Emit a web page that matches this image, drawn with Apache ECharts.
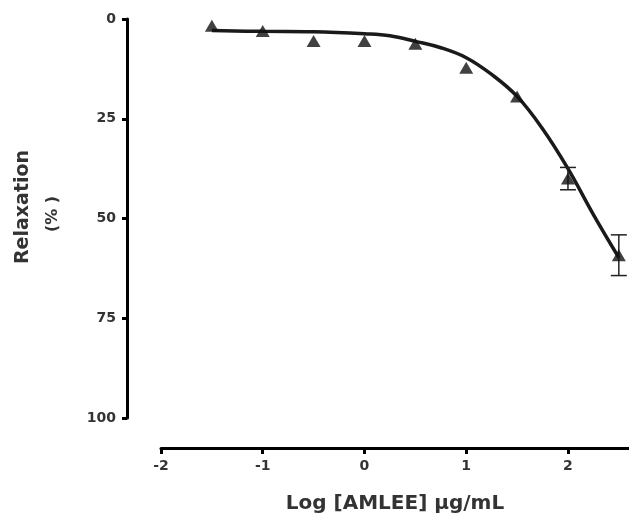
<!DOCTYPE html>
<html>
<head>
<meta charset="utf-8">
<script src="https://cdn.jsdelivr.net/npm/echarts@6/dist/echarts.min.js"></script>
<style>html,body{margin:0;padding:0;background:#fff}#c{width:629px;height:519px}</style>
</head>
<body>
<div id="c"></div>
<script>
// Measured data (log concentration, % relaxation, SEM)
const logConc = [-1.5, -1, -0.5, 0, 0.5, 1, 1.5, 2, 2.5];
const relaxation = [1.7, 3.0, 5.5, 5.5, 6.2, 12.2, 19.4, 40.0, 59.2];
const sem = [0, 0, 0, 0, 0, 0, 0, 2.8, 5.1];
// Fitted curve
const curveX = [-1.5, -1, -0.5, 0, 0.25, 0.5, 0.75, 1, 1.25, 1.5, 1.75, 2, 2.25, 2.5];
const curveY = [2.9, 3.1, 3.2, 3.7, 4.2, 5.6, 7.2, 9.7, 13.9, 19.4, 27.5, 37.5, 49, 59.8];
const yTicks = [0, 25, 50, 75, 100];

const chart = echarts.init(document.getElementById('c'));
const font = 'DejaVu Sans';
const pts = logConc.map((x, i) => [x, relaxation[i]]);
const errs = logConc.map((x, i) => [x, relaxation[i] - sem[i], relaxation[i] + sem[i]]).filter((d, i) => sem[i] > 0);

chart.setOption({
  animation: false,
  backgroundColor: '#fff',
  grid: { left: 161, top: 19, height: 403, width: 472.65 },
  xAxis: {
    type: 'value', min: -2, max: 2.6, interval: 1,
    offset: 30,
    axisLine: { onZero: false, lineStyle: { color: '#000', width: 3 } },
    axisTick: { show: true, length: 6, lineStyle: { color: '#000', width: 3 } },
    axisLabel: { showMaxLabel: false, margin: 11, color: '#333', fontFamily: font, fontWeight: 'bold', fontSize: 14 },
    splitLine: { show: false },
    name: 'Log [AMLEE] µg/mL', nameLocation: 'middle', nameGap: 46,
    nameTextStyle: { color: '#333', fontFamily: font, fontWeight: 'bold', fontSize: 20 }
  },
  yAxis: {
    type: 'value', min: 0, max: 100, interval: 25, inverse: true,
    offset: 34,
    axisLine: { show: true, onZero: false, lineStyle: { color: '#000', width: 3 } },
    axisTick: { show: true, length: 5, lineStyle: { color: '#000', width: 3 } },
    axisLabel: { margin: 11, color: '#333', fontFamily: font, fontWeight: 'bold', fontSize: 14,
      formatter: v => yTicks.includes(v) ? String(v) : '' },
    splitLine: { show: false }
  },
  graphic: [
    { type: 'text', x: 23, y: 207, rotation: Math.PI / 2,
      style: { text: 'Relaxation', fill: '#333', font: 'bold 19px "DejaVu Sans"', align: 'center', verticalAlign: 'middle' } },
    { type: 'text', x: 53, y: 214, rotation: Math.PI / 2,
      style: { text: '(% )', fill: '#333', font: 'bold 16px "DejaVu Sans"', align: 'center', verticalAlign: 'middle' } }
  ],
  series: [
    {
      type: 'line', data: curveX.map((x, i) => [x, curveY[i]]), smooth: 0.4, symbol: 'none',
      lineStyle: { color: '#1a1a1a', width: 3.5 }, z: 2
    },
    {
      type: 'custom', data: errs, z: 3,
      renderItem: (params, api) => {
        const x = api.value(0);
        const lo = api.coord([x, api.value(1)]);
        const hi = api.coord([x, api.value(2)]);
        const w = 8;
        const s = { stroke: '#222', lineWidth: 1.5 };
        return { type: 'group', children: [
          { type: 'line', shape: { x1: lo[0], y1: lo[1], x2: hi[0], y2: hi[1] }, style: s },
          { type: 'line', shape: { x1: lo[0] - w, y1: lo[1], x2: lo[0] + w, y2: lo[1] }, style: s },
          { type: 'line', shape: { x1: hi[0] - w, y1: hi[1], x2: hi[0] + w, y2: hi[1] }, style: s }
        ] };
      }
    },
    {
      type: 'scatter', data: pts, symbol: 'triangle', symbolSize: [14, 12],
      itemStyle: { color: '#111' }, z: 4
    }
  ]
});
</script>
</body>
</html>
